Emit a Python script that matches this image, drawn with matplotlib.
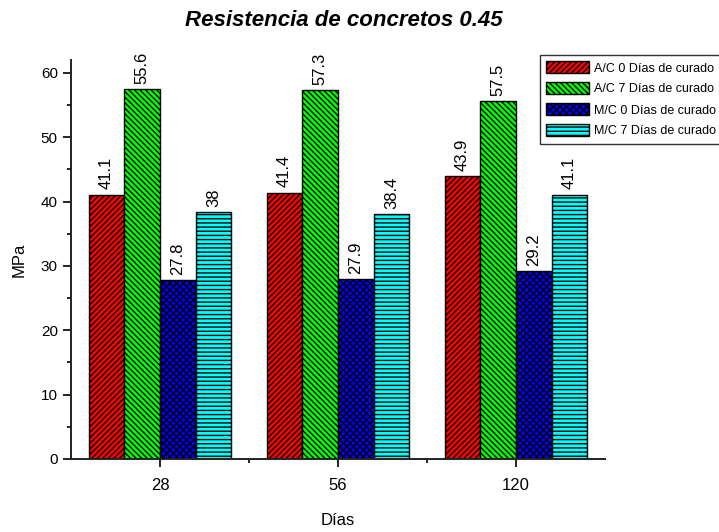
import matplotlib
matplotlib.use("Agg")
import matplotlib.pyplot as plt
import numpy as np
from matplotlib.ticker import MultipleLocator, FixedLocator

plt.rcParams['font.family'] = ['Liberation Sans', 'DejaVu Sans']
plt.rcParams['hatch.linewidth'] = 1.0

categories = ['28', '56', '120']
series_names = ['A/C 0 Días de curado', 'A/C 7 Días de curado',
                'M/C 0 Días de curado', 'M/C 7 Días de curado']
ac0 = [41.1, 41.4, 43.9]
ac7 = [57.5, 57.3, 55.6]
mc0 = [27.8, 27.9, 29.2]
mc7 = [38.4, 38.0, 41.1]
ac0_labels = ['41.1', '41.4', '43.9']
ac7_labels = ['55.6', '57.3', '57.5']
mc0_labels = ['27.8', '27.9', '29.2']
mc7_labels = ['38', '38.4', '41.1']

series = [ac0, ac7, mc0, mc7]
labels = [ac0_labels, ac7_labels, mc0_labels, mc7_labels]
colors = ['#ff0000', '#00ff00', '#0000ff', '#00ffff']
hatches = ['//////', '\\\\\\\\\\\\', 'xxxxx', '----']

fig = plt.figure(figsize=(7.19, 5.32), dpi=100)
ax = fig.add_axes([71/719, 73/532, (605-71)/719, (459-60)/532])

x = np.arange(len(categories))
w = 0.2
for i, (vals, lab) in enumerate(zip(series, labels)):
    pos = x + (i - 1.5) * w
    bars = ax.bar(pos, vals, width=w, color=colors[i], edgecolor='black',
                  hatch=hatches[i], linewidth=1.0, label=series_names[i])
    for b, t in zip(bars, lab):
        ax.text(b.get_x() + b.get_width()/2, b.get_height() + 0.8, t,
                rotation=90, ha='center', va='bottom', fontsize=12)

ax.set_xlim(-0.5, 2.5)
ax.set_ylim(0, 62)
ax.set_xticks(x)
ax.set_xticklabels(categories, fontsize=12)
ax.xaxis.set_minor_locator(FixedLocator([0.5, 1.5]))
ax.yaxis.set_major_locator(MultipleLocator(10))
ax.yaxis.set_minor_locator(MultipleLocator(5))
ax.tick_params(axis='both', which='major', direction='out', length=6, width=1.2, labelsize=11)
ax.tick_params(axis='x', which='major', labelsize=12, pad=8)
ax.tick_params(axis='both', which='minor', direction='out', length=3, width=1.2)
for s in ['top', 'right']:
    ax.spines[s].set_visible(False)
for s in ['left', 'bottom']:
    ax.spines[s].set_linewidth(1.4)
    ax.spines[s].set_color('#222222')

ax.set_ylabel('MPa', fontsize=12, labelpad=10)
ax.set_xlabel('Días', fontsize=12, labelpad=14)
fig.text(0.478, 1 - 20/532, 'Resistencia de concretos 0.45', ha='center', va='center',
         fontsize=16, fontweight='bold', fontstyle='italic')

leg = fig.legend(loc='upper left', bbox_to_anchor=(540/719, 1 - 55/532),
                 fontsize=9, frameon=True, fancybox=False, edgecolor='black',
                 handlelength=3.4, handleheight=1.1, borderpad=0.5,
                 labelspacing=0.62, handletextpad=0.4, borderaxespad=0)
leg.get_frame().set_linewidth(1.0)

fig.savefig('out.png', dpi=100)
